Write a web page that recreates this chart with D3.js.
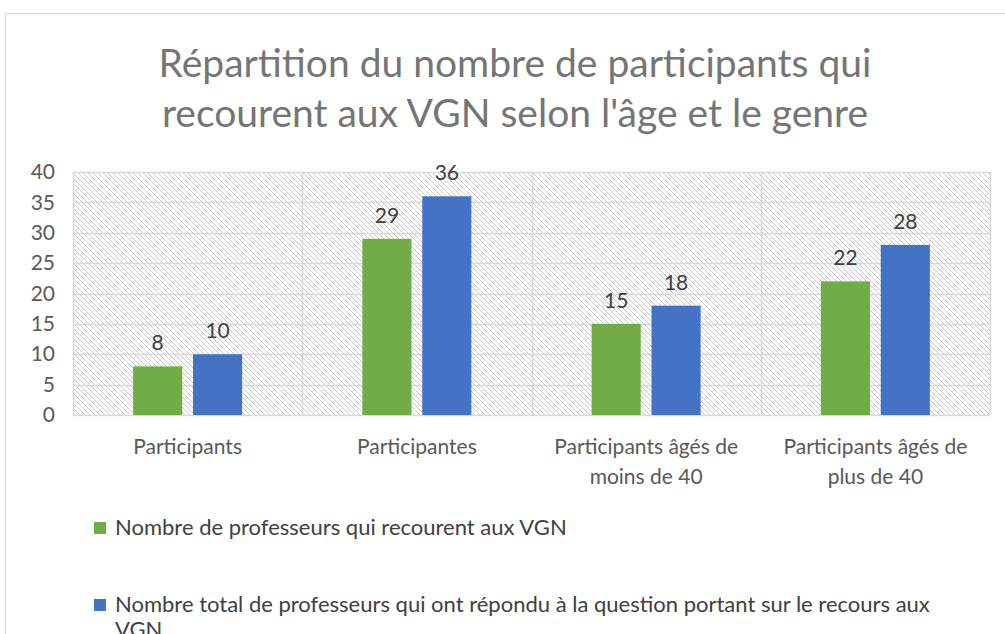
<!DOCTYPE html>
<html>
<head>
<meta charset="utf-8">
<script src="https://cdn.jsdelivr.net/npm/d3@7"></script>
<style>
  html, body { margin: 0; padding: 0; background: #fff; }
  svg { display: block; font-family: Lato, "Open Sans", sans-serif; }
</style>
</head>
<body>
<svg id="chart" width="1005" height="634"></svg>
<script>
// Categories and series
const categories = [
  ["Participants"],
  ["Participantes"],
  ["Participants âgés de", "moins de 40"],
  ["Participants âgés de", "plus de 40"]
];
const seriesNames = [
  "Nombre de professeurs qui recourent aux VGN",
  "Nombre total de professeurs qui ont répondu à la question portant sur le recours aux VGN"
];
const usersVGN = [8, 29, 15, 22];
const totalRespondents = [10, 36, 18, 28];
const yTicks = [0, 5, 10, 15, 20, 25, 30, 35, 40];
const colors = ["#70AD47", "#4472C4"];

const svg = d3.select("#chart");

// Chart frame
svg.append("path")
  .attr("d", "M5.5,1000 V13.5 H1100")
  .attr("fill", "none")
  .attr("stroke", "#d9d9d9")
  .attr("stroke-width", 1);

// Title
const title = svg.append("text")
  .attr("text-anchor", "middle")
  .attr("fill", "#757575")
  .attr("font-size", 39);
title.append("tspan").attr("x", 515).attr("y", 77)
  .text("Répartition du nombre de participants qui");
title.append("tspan").attr("x", 515).attr("y", 127)
  .text("recourent aux VGN selon l'âge et le genre");

// Plot area
const plot = { left: 73, right: 990, top: 172, bottom: 415 };
const x = d3.scaleBand()
  .domain(d3.range(categories.length))
  .range([plot.left, plot.right]);
const y = d3.scaleLinear().domain([0, 40]).range([plot.bottom, plot.top]);

// Diagonal hatch fill of the plot background
const defs = svg.append("defs");
const pat = defs.append("pattern")
  .attr("id", "hatch")
  .attr("patternUnits", "userSpaceOnUse")
  .attr("width", 5).attr("height", 5);
pat.append("rect").attr("width", 5).attr("height", 5).attr("fill", "#fff");
pat.append("path")
  .attr("d", "M-1,-1 L6,6 M-1,4 L1,6 M4,-1 L6,1")
  .attr("stroke", "#c8c8c8")
  .attr("stroke-width", 1);

svg.append("rect")
  .attr("x", plot.left).attr("y", plot.top)
  .attr("width", plot.right - plot.left)
  .attr("height", plot.bottom - plot.top)
  .attr("fill", "url(#hatch)");

// Horizontal gridlines
svg.append("g").selectAll("line").data(yTicks).join("line")
  .attr("x1", plot.left).attr("x2", plot.right)
  .attr("y1", d => Math.round(y(d)) + 0.5)
  .attr("y2", d => Math.round(y(d)) + 0.5)
  .attr("stroke", "#d9d9d9").attr("stroke-width", 1.5);

// Vertical category separators
const seps = d3.range(categories.length + 1).map(i =>
  i < categories.length ? x(i) : x(categories.length - 1) + x.bandwidth());
svg.append("g").selectAll("line").data(seps).join("line")
  .attr("x1", d => Math.round(d) + 0.5).attr("x2", d => Math.round(d) + 0.5)
  .attr("y1", plot.top).attr("y2", plot.bottom)
  .attr("stroke", "#d9d9d9").attr("stroke-width", 1.5);

// Y axis labels
const yAxis = d3.axisLeft(y).tickValues(yTicks).tickSize(0).tickPadding(18);
const gy = svg.append("g")
  .attr("transform", `translate(${plot.left},0)`)
  .call(yAxis);
gy.select(".domain").remove();
gy.selectAll("text")
  .attr("font-family", "Lato, 'Open Sans', sans-serif")
  .attr("font-size", 21)
  .attr("fill", "#595959");

// Bars
const inner = d3.scaleBand().domain([0, 1]).range([0, 109]).paddingInner(0.18);
const series = [usersVGN, totalRespondents];
series.forEach((vals, s) => {
  const g = svg.append("g");
  const bx = i => x(i) + (x.bandwidth() - 109) / 2 + inner(s);
  g.selectAll("rect").data(vals).join("rect")
    .attr("x", (d, i) => bx(i))
    .attr("y", d => y(d))
    .attr("width", inner.bandwidth())
    .attr("height", d => y(0) - y(d))
    .attr("fill", colors[s]);
  g.selectAll("text").data(vals).join("text")
    .attr("x", (d, i) => bx(i) + inner.bandwidth() / 2)
    .attr("y", d => y(d) - 16)
    .attr("text-anchor", "middle")
    .attr("font-size", 21)
    .attr("fill", "#404040")
    .text(d => d);
});

// Category labels
const cat = svg.append("g");
categories.forEach((lines, i) => {
  const t = cat.append("text")
    .attr("text-anchor", "middle")
    .attr("font-size", 21)
    .attr("fill", "#595959");
  lines.forEach((ln, k) => {
    t.append("tspan")
      .attr("x", x(i) + x.bandwidth() / 2)
      .attr("y", 454 + k * 30)
      .text(ln);
  });
});

// Legend
const legend = svg.append("g");
const legendRows = [
  { y: 528, lines: [seriesNames[0]] },
  { y: 605, lines: ["Nombre total de professeurs qui ont répondu à la question portant sur le recours aux", "VGN"] }
];
legendRows.forEach((row, i) => {
  legend.append("rect")
    .attr("x", 94).attr("y", row.y - 6)
    .attr("width", 12).attr("height", 12)
    .attr("fill", colors[i]);
  const t = legend.append("text")
    .attr("font-size", 22)
    .attr("fill", "#404040");
  row.lines.forEach((ln, k) => {
    t.append("tspan")
      .attr("x", 115)
      .attr("y", row.y + 7 + k * 25)
      .text(ln);
  });
});
</script>
</body>
</html>
